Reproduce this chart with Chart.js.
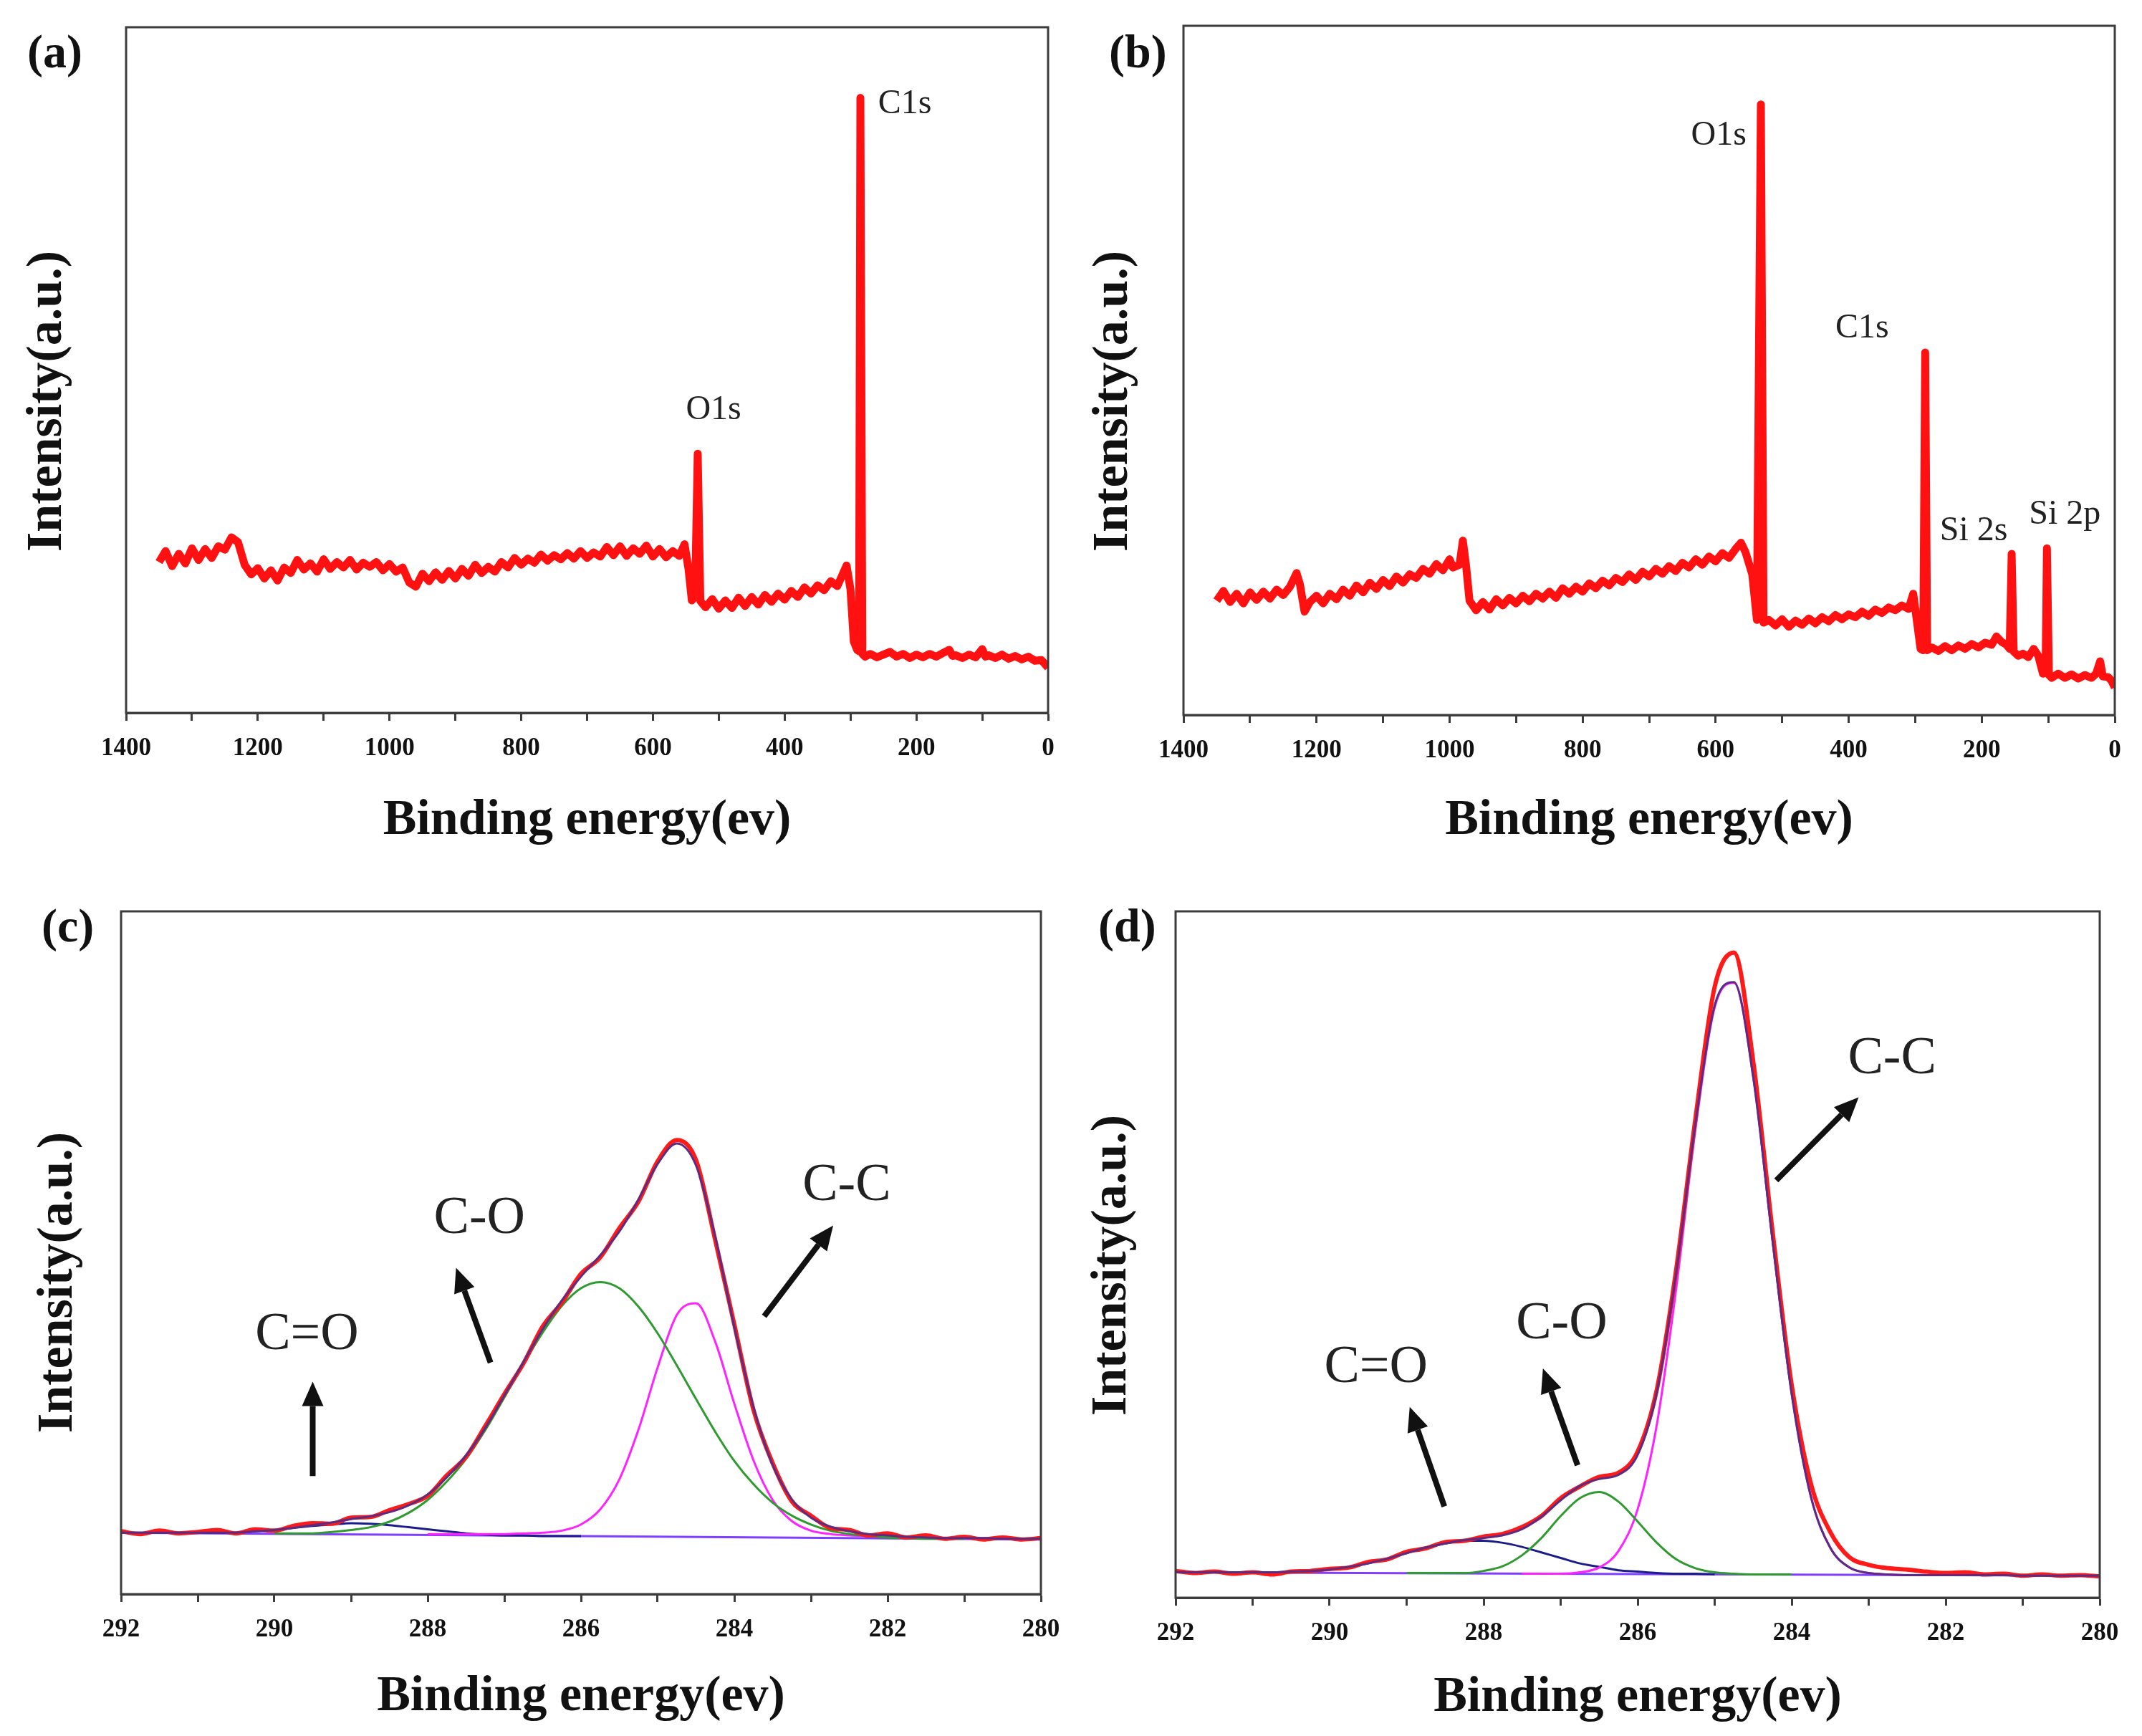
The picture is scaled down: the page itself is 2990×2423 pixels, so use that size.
<!DOCTYPE html>
<html>
<head>
<meta charset="utf-8">
<title>XPS spectra</title>
<script src="https://cdn.jsdelivr.net/npm/chart.js@4.4.1/dist/chart.umd.min.js"></script>
<style>
  html, body { margin: 0; padding: 0; background: #fff; }
  body { width: 2990px; height: 2423px; position: relative; overflow: hidden; }
  canvas { position: absolute; }
</style>
</head>
<body>
<canvas id="panelA" width="1495" height="1211" style="left:0;top:0"></canvas>
<canvas id="panelB" width="1495" height="1211" style="left:1495px;top:0"></canvas>
<canvas id="panelC" width="1495" height="1212" style="left:0;top:1211px"></canvas>
<canvas id="panelD" width="1495" height="1212" style="left:1495px;top:1211px"></canvas>
<script>
// intensities are in arbitrary units, 0 = bottom of the frame, 100 = top

// (a) survey spectrum
const surveyAEnergy = [
  1350, 1340, 1330, 1320, 1310, 1300, 1290, 1280, 1270, 1260,
  1250, 1240, 1230, 1220, 1210, 1200, 1190, 1180, 1170, 1160,
  1150, 1140, 1130, 1120, 1110, 1100, 1090, 1080, 1070, 1060,
  1050, 1040, 1030, 1020, 1010, 1000, 990, 980, 970, 960,
  950, 940, 930, 920, 910, 900, 890, 880, 870, 860,
  850, 840, 830, 820, 810, 800, 790, 780, 770, 760,
  750, 740, 730, 720, 710, 700, 690, 680, 670, 660,
  650, 640, 630, 620, 610, 600, 590, 580, 570, 560,
  552, 546, 541, 536, 532, 528, 520, 510, 500, 490,
  480, 470, 460, 450, 440, 430, 420, 410, 400, 390,
  380, 370, 360, 350, 340, 330, 320, 312, 306, 300,
  295, 290, 287, 285, 282, 278, 270, 260, 250, 240,
  230, 220, 210, 200, 190, 180, 170, 160, 150, 145,
  140, 130, 120, 110, 100, 95, 90, 80, 70, 60,
  50, 40, 30, 20, 10, 0
];
const surveyAIntensity = [
  22.0, 23.6, 21.4, 23.2, 21.8, 24.0, 22.3, 23.9, 22.6, 24.3,
  23.8, 25.6, 24.9, 21.6, 20.2, 21.1, 19.6, 20.8, 19.3, 21.2,
  20.4, 22.3, 20.9, 21.8, 20.6, 22.4, 21.0, 22.0, 21.2, 22.3,
  20.9, 21.9, 21.3, 22.0, 20.8, 21.7, 20.6, 21.2, 19.0, 18.4,
  20.3, 19.2, 20.5, 19.4, 20.7, 19.6, 21.0, 20.0, 21.6, 20.4,
  21.3, 20.6, 22.0, 21.2, 22.6, 21.6, 22.5, 21.9, 23.1, 22.2,
  23.0, 22.4, 23.3, 22.5, 23.6, 22.6, 23.4, 22.8, 24.2, 23.0,
  24.3, 22.9, 24.0, 23.2, 24.4, 22.8, 23.9, 22.7, 23.6, 22.9,
  24.6, 21.0, 16.4, 17.0, 37.8, 16.3, 15.4, 16.6, 15.2, 16.4,
  15.3, 16.8, 15.6, 16.9, 15.8, 17.2, 16.2, 17.4, 16.5, 17.8,
  16.9, 18.3, 17.4, 18.6, 17.9, 19.2, 18.5, 20.2, 21.5, 18.0,
  10.4, 9.2, 9.0, 89.7, 8.6, 8.2, 8.6, 8.1, 8.5, 8.9,
  8.2, 8.6, 8.0, 8.5, 8.1, 8.6, 8.2, 8.7, 9.2, 8.3,
  8.4, 8.0, 8.5, 8.1, 9.3, 8.2, 8.4, 8.0, 8.5, 7.9,
  8.3, 7.8, 8.2, 7.6, 7.7, 6.6
];

// (b) survey spectrum
const surveyBEnergy = [
  1350, 1340, 1330, 1320, 1310, 1300, 1290, 1280, 1270, 1260,
  1250, 1240, 1230, 1225, 1218, 1210, 1200, 1190, 1180, 1170,
  1160, 1150, 1140, 1130, 1120, 1110, 1100, 1090, 1080, 1070,
  1060, 1050, 1040, 1030, 1020, 1010, 1000, 995, 985, 980,
  975, 970, 960, 950, 940, 930, 920, 910, 900, 890,
  880, 870, 860, 850, 840, 830, 820, 810, 800, 790,
  780, 770, 760, 750, 740, 730, 720, 710, 700, 690,
  680, 670, 660, 650, 640, 630, 620, 610, 600, 590,
  580, 570, 562, 555, 545, 538, 532, 528, 520, 510,
  500, 490, 480, 470, 460, 450, 440, 430, 420, 410,
  400, 390, 380, 370, 360, 350, 340, 330, 320, 310,
  303, 298, 292, 288, 285, 282, 275, 265, 255, 245,
  235, 225, 215, 205, 195, 185, 178, 170, 163, 158,
  155, 152, 145, 138, 130, 122, 115, 108, 104, 102,
  99, 95, 85, 75, 65, 55, 45, 35, 28, 22,
  18, 10, 5, 0
];
const surveyBIntensity = [
  16.6, 18.0, 16.4, 17.6, 16.2, 17.8, 16.7, 17.9, 16.9, 18.2,
  17.4, 18.6, 20.6, 19.0, 15.0, 16.4, 17.3, 16.2, 17.6, 16.8,
  18.2, 17.3, 18.8, 17.8, 19.2, 18.3, 19.6, 18.7, 20.1, 19.2,
  20.4, 19.9, 21.2, 20.5, 21.9, 21.0, 22.6, 21.4, 21.8, 25.3,
  21.5, 16.6, 15.2, 16.4, 15.3, 16.8, 15.9, 17.0, 16.2, 17.3,
  16.5, 17.6, 16.9, 17.9, 17.0, 18.4, 17.6, 18.6, 17.9, 19.1,
  18.4, 19.5, 18.8, 19.9, 19.3, 20.4, 19.6, 20.8, 20.1, 21.2,
  20.5, 21.6, 20.9, 22.1, 21.4, 22.6, 21.8, 23.0, 22.3, 23.5,
  22.8, 24.1, 25.0, 23.6, 20.4, 13.8, 88.6, 13.4, 13.8, 13.0,
  13.9, 12.8, 13.7, 13.1, 14.0, 13.3, 14.2, 13.6, 14.5, 13.9,
  14.6, 14.2, 15.0, 14.4, 15.3, 14.8, 15.6, 15.2, 15.9, 15.4,
  17.6, 14.0, 9.6, 9.4, 52.6, 9.4, 9.8, 9.3, 10.0, 9.4,
  10.1, 9.6, 10.3, 9.8, 10.5, 10.2, 11.4, 10.6, 10.2, 9.6,
  23.4, 9.2, 8.6, 8.9, 8.4, 9.6, 8.6, 6.0, 6.2, 24.2,
  5.8, 5.4, 6.0, 5.4, 5.9, 5.3, 5.8, 5.4, 6.0, 7.8,
  5.6, 5.5, 5.0, 4.0
];

// C1s high resolution energy grid (eV)
const c1sEnergy = [
  292, 291.75, 291.5, 291.25, 291, 290.75, 290.5, 290.25, 290, 289.75,
  289.5, 289.25, 289, 288.75, 288.5, 288.25, 288, 287.75, 287.5, 287.25,
  287, 286.75, 286.5, 286.25, 286, 285.75, 285.5, 285.25, 285, 284.75,
  284.5, 284.25, 284, 283.75, 283.5, 283.25, 283, 282.75, 282.5, 282.25,
  282, 281.75, 281.5, 281.25, 281, 280.75, 280.5, 280.25, 280
];

// (c) C1s
const cMeasured = [
  9.2, 8.8, 9.3, 8.9, 9.1, 9.4, 8.9, 9.5, 9.3, 10.0,
  10.4, 10.3, 11.2, 11.3, 12.3, 13.2, 14.4, 17.4, 20.1, 24.6,
  29.3, 33.8, 39.2, 42.7, 46.9, 49.3, 53.6, 57.5, 63.4, 66.5,
  63.6, 51.9, 39.5, 27.0, 19.2, 13.6, 11.5, 9.7, 9.4, 8.6,
  8.9, 8.3, 8.6, 8.1, 8.4, 8.0, 8.3, 8.0, 8.2
];
const cEnvelope = [
  9.0, 9.0, 9.0, 9.0, 9.0, 9.0, 9.0, 9.2, 9.4, 9.7,
  10.1, 10.5, 11.0, 11.4, 12.0, 13.0, 14.6, 17.1, 20.3, 24.3,
  29.1, 34.0, 38.8, 43.0, 46.5, 49.6, 53.1, 57.8, 63.0, 66.0,
  62.8, 52.4, 39.1, 27.4, 18.9, 13.9, 11.2, 9.9, 9.2, 8.8,
  8.6, 8.4, 8.3, 8.2, 8.2, 8.2, 8.1, 8.1, 8.1
];
const cCOFrom = 290;
const cCO = [
  8.9, 8.9, 8.9, 9.1, 9.4, 9.8, 10.6, 11.9, 13.8, 16.5,
  19.8, 24.0, 28.8, 33.7, 38.3, 42.2, 44.8, 45.7, 44.8, 42.1,
  38.2, 33.5, 28.6, 23.8, 19.5, 16.1, 13.4, 11.5, 10.2, 9.3,
  8.8, 8.5, 8.3, 8.2, 8.1, 8.1, 8.1
];
const cCCFrom = 288;
const cCC = [
  8.8, 8.8, 8.8, 8.8, 8.8, 8.9, 9.0, 9.3, 10.2, 12.4,
  16.8, 24.1, 33.2, 40.9, 42.6, 37.0, 27.9, 19.6, 13.8, 10.7,
  9.3, 8.8, 8.6, 8.5, 8.4, 8.3, 8.3, 8.2, 8.2, 8.2,
  8.1, 8.1, 8.1
];
const cCdOFrom = 292;
const cCdO = [
  9.0, 9.0, 9.0, 9.0, 9.0, 9.0, 9.0, 9.2, 9.4, 9.7,
  10.0, 10.2, 10.4, 10.3, 10.1, 9.8, 9.5, 9.2, 8.9, 8.7,
  8.6, 8.6, 8.5, 8.5, 8.5
];
const cBackgroundEnergy = [292, 280];
const cBackground = [9.0, 8.0];

// (d) C1s
const dMeasured = [
  3.9, 3.6, 3.8, 3.5, 3.7, 3.4, 3.8, 3.9, 4.2, 4.4,
  5.2, 5.6, 6.7, 7.2, 8.1, 8.3, 8.9, 9.3, 10.3, 11.9,
  14.5, 16.2, 17.6, 18.2, 21.3, 30.4, 47.8, 69.8, 89.0, 94.0,
  78.2, 53.5, 31.0, 16.6, 9.6, 5.9, 4.8, 4.3, 4.1, 3.8,
  3.6, 3.7, 3.4, 3.5, 3.2, 3.4, 3.2, 3.3, 3.1
];
const dEnvelope = [
  3.7, 3.7, 3.7, 3.7, 3.7, 3.7, 3.8, 3.9, 4.1, 4.5,
  5.0, 5.7, 6.5, 7.3, 7.9, 8.4, 8.7, 9.1, 10.0, 11.8,
  14.2, 16.3, 17.3, 17.9, 20.8, 30.0, 47.3, 69.1, 86.3, 89.7,
  75.9, 52.2, 29.7, 14.7, 7.3, 4.4, 3.6, 3.4, 3.3, 3.3,
  3.3, 3.3, 3.3, 3.3, 3.2, 3.2, 3.2, 3.2, 3.2
];
const dCOFrom = 289;
const dCO = [
  3.6, 3.6, 3.6, 3.6, 3.9, 4.6, 6.2, 8.7, 11.9, 14.5,
  15.4, 14.0, 11.1, 8.0, 5.6, 4.3, 3.7, 3.5, 3.4, 3.4,
  3.4
];
const dCCFrom = 287.5;
const dCC = [
  3.5, 3.5, 3.5, 3.7, 4.4, 6.8, 12.9, 25.3, 45.0, 68.2,
  86.0, 89.6, 75.9, 52.2, 29.7, 14.7, 7.3, 4.4, 3.6, 3.4,
  3.3, 3.3, 3.3
];
const dCdOFrom = 292;
const dCdO = [
  3.7, 3.7, 3.7, 3.7, 3.7, 3.7, 3.8, 3.9, 4.1, 4.5,
  5.0, 5.7, 6.5, 7.3, 7.9, 8.3, 8.3, 8.0, 7.4, 6.6,
  5.8, 5.0, 4.5, 4.0, 3.8, 3.6, 3.5, 3.5, 3.4
];
const dBackgroundEnergy = [292, 280];
const dBackground = [3.7, 3.2];

const SERIF = '"Liberation Serif", "Times New Roman", serif';

function toPoints(energies, values, from) {
  const start = from === undefined ? 0 : energies.indexOf(from);
  return values.map((v, i) => ({ x: energies[start + i], y: v }));
}

function drawArrow(ctx, x0, y0, x1, y1) {
  const ang = Math.atan2(y1 - y0, x1 - x0);
  const headLen = 34, headHalf = 15;
  const bx = x1 - headLen * Math.cos(ang), by = y1 - headLen * Math.sin(ang);
  ctx.beginPath();
  ctx.lineWidth = 8;
  ctx.lineCap = 'butt';
  ctx.moveTo(x0, y0);
  ctx.lineTo(bx, by);
  ctx.stroke();
  ctx.beginPath();
  ctx.moveTo(x1, y1);
  ctx.lineTo(bx + headHalf * Math.sin(ang), by - headHalf * Math.cos(ang));
  ctx.lineTo(bx - headHalf * Math.sin(ang), by + headHalf * Math.cos(ang));
  ctx.closePath();
  ctx.fill();
}

// frame, panel letter, y title, peak labels and arrows
const decor = {
  id: 'decor',
  afterDraw(chart, args, opts) {
    const { ctx, chartArea: a, scales: { x, y } } = chart;
    ctx.save();
    ctx.strokeStyle = '#3c3c3c';
    ctx.lineWidth = 3;
    ctx.strokeRect(a.left, a.top, a.right - a.left, a.bottom - a.top);

    ctx.fillStyle = '#111';
    ctx.textAlign = 'left';
    ctx.textBaseline = 'alphabetic';
    ctx.font = 'bold 66px ' + SERIF;
    ctx.fillText(opts.letter, opts.letterAt[0], opts.letterAt[1]);

    ctx.save();
    ctx.translate(opts.yTitleAt[0], opts.yTitleAt[1]);
    ctx.rotate(-Math.PI / 2);
    ctx.textAlign = 'center';
    ctx.textBaseline = 'middle';
    ctx.font = 'bold 70px ' + SERIF;
    ctx.fillText('Intensity(a.u.)', 0, 0);
    ctx.restore();

    ctx.fillStyle = '#222';
    ctx.font = opts.noteSize + 'px ' + SERIF;
    opts.notes.forEach(n => {
      ctx.fillText(n.text, x.getPixelForValue(n.x), y.getPixelForValue(n.y));
    });

    ctx.strokeStyle = '#111';
    ctx.fillStyle = '#111';
    (opts.arrows || []).forEach(ar => {
      drawArrow(ctx,
        x.getPixelForValue(ar[0][0]), y.getPixelForValue(ar[0][1]),
        x.getPixelForValue(ar[1][0]), y.getPixelForValue(ar[1][1]));
    });
    ctx.restore();
  }
};

function makePanel(id, p) {
  new Chart(document.getElementById(id), {
    type: 'line',
    data: { datasets: p.datasets },
    plugins: [decor],
    options: {
      responsive: false,
      animation: false,
      devicePixelRatio: 1,
      layout: { padding: p.padding },
      elements: { point: { radius: 0 }, line: { borderJoinStyle: 'round' } },
      plugins: {
        legend: { display: false },
        tooltip: { enabled: false },
        decor: p.decor
      },
      scales: {
        x: {
          type: 'linear',
          reverse: true,
          min: p.xMin,
          max: p.xMax,
          afterFit(scale) {
            scale.height = p.axisHeight;
            scale.paddingLeft = 0;
            scale.paddingRight = 0;
          },
          ticks: {
            stepSize: p.step,
            autoSkip: false,
            maxRotation: 0,
            padding: 18,
            color: '#111',
            font: { family: SERIF, size: 35, weight: 'bold' },
            callback: v => (v % p.major === 0 ? String(v) : '')
          },
          grid: {
            display: true,
            drawOnChartArea: false,
            drawTicks: true,
            tickLength: 11,
            tickWidth: 3,
            tickColor: '#3c3c3c'
          },
          border: { display: true, color: '#3c3c3c', width: 3 },
          title: {
            display: true,
            text: 'Binding energy(ev)',
            color: '#111',
            font: { family: SERIF, size: 70, weight: 'bold' },
            padding: { top: 0, bottom: p.titlePad }
          }
        },
        y: { display: false, min: 0, max: 100 }
      }
    }
  });
}

function surveyLine(energy, values) {
  return [{
    data: toPoints(energy, values),
    borderColor: '#ff1111',
    borderWidth: 11,
    tension: 0,
    fill: false
  }];
}

function fitLines(measured, envelope, co, coFrom, cc, ccFrom, cdo, cdoFrom, bgE, bg) {
  const line = (data, color, width) => ({
    data, borderColor: color, borderWidth: width, fill: false,
    cubicInterpolationMode: 'monotone'
  });
  return [
    line(toPoints(c1sEnergy, envelope), '#5b2c83', 3),
    line(toPoints(c1sEnergy, measured), '#ff1a1a', 6),
    line(toPoints(c1sEnergy, co, coFrom), '#2f9a2f', 3),
    line(toPoints(c1sEnergy, cc, ccFrom), '#ff22ff', 3),
    line(toPoints(c1sEnergy, cdo, cdoFrom), '#1c1c8c', 3),
    line(toPoints(bgE, bg), '#7f3fff', 3)
  ];
}

makePanel('panelA', {
  datasets: surveyLine(surveyAEnergy, surveyAIntensity),
  padding: { left: 176, top: 38, right: 32, bottom: 0 },
  axisHeight: 216, titlePad: 23,
  xMin: 0, xMax: 1400, step: 100, major: 200,
  decor: {
    letter: '(a)', letterAt: [38, 94], yTitleAt: [67, 560], noteSize: 48,
    notes: [
      { text: 'C1s', x: 258, y: 87.5 },
      { text: 'O1s', x: 550, y: 42.8 }
    ]
  }
});

makePanel('panelB', {
  datasets: surveyLine(surveyBEnergy, surveyBIntensity),
  padding: { left: 157, top: 36, right: 38, bottom: 0 },
  axisHeight: 213, titlePad: 23,
  xMin: 0, xMax: 1400, step: 100, major: 200,
  decor: {
    letter: '(b)', letterAt: [53, 94], yTitleAt: [60, 560], noteSize: 48,
    notes: [
      { text: 'O1s', x: 637, y: 82.7 },
      { text: 'C1s', x: 420, y: 54.8 },
      { text: 'Si 2s', x: 263, y: 25.4 },
      { text: 'Si 2p', x: 129, y: 27.8 }
    ]
  }
});

makePanel('panelC', {
  datasets: fitLines(cMeasured, cEnvelope, cCO, cCOFrom, cCC, cCCFrom, cCdO, cCdOFrom,
    cBackgroundEnergy, cBackground),
  padding: { left: 169, top: 61, right: 42, bottom: 0 },
  axisHeight: 198, titlePad: 12,
  xMin: 280, xMax: 292, step: 1, major: 2,
  decor: {
    letter: '(c)', letterAt: [58, 103], yTitleAt: [82, 579], noteSize: 74,
    notes: [
      { text: 'C=O', x: 290.25, y: 35.9 },
      { text: 'C-O', x: 287.92, y: 52.9 },
      { text: 'C-C', x: 283.11, y: 57.7 }
    ],
    arrows: [
      [[289.5, 17.3], [289.5, 31.1]],
      [[287.18, 33.9], [287.63, 47.8]],
      [[283.61, 40.7], [282.71, 54.0]]
    ]
  }
});

makePanel('panelD', {
  datasets: fitLines(dMeasured, dEnvelope, dCO, dCOFrom, dCC, dCCFrom, dCdO, dCdOFrom,
    dBackgroundEnergy, dBackground),
  padding: { left: 146, top: 61, right: 59, bottom: 0 },
  axisHeight: 193, titlePad: 11,
  xMin: 280, xMax: 292, step: 1, major: 2,
  decor: {
    letter: '(d)', letterAt: [38, 103], yTitleAt: [58, 555], noteSize: 74,
    notes: [
      { text: 'C=O', x: 290.07, y: 31.4 },
      { text: 'C-O', x: 287.58, y: 37.8 },
      { text: 'C-C', x: 283.27, y: 76.4 }
    ],
    arrows: [
      [[288.51, 13.3], [288.96, 27.8]],
      [[286.78, 19.3], [287.23, 33.4]],
      [[284.20, 60.8], [283.13, 72.9]]
    ]
  }
});
</script>
</body>
</html>
